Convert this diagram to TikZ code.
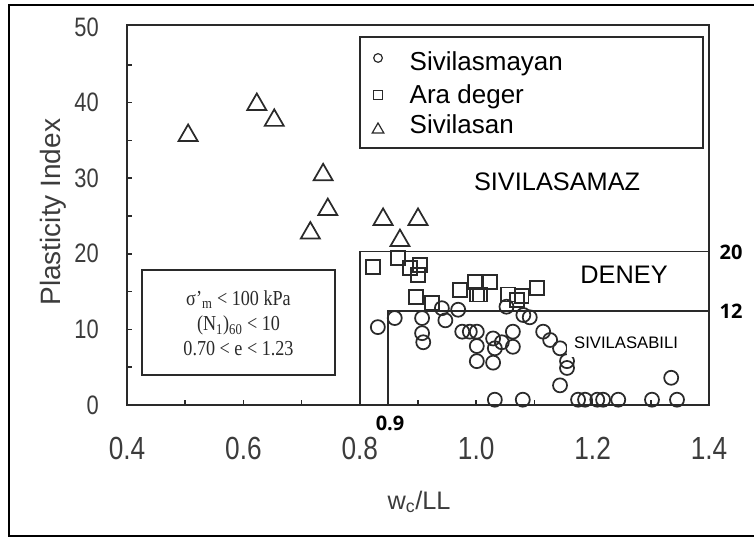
\documentclass[tikz,border=0pt]{standalone}
\usepackage{fontspec}
\usepackage{xcolor}
\usetikzlibrary{shapes.geometric}
\newfontfamily\arialfont{Liberation Sans}
\newfontfamily\scanfont[FakeStretch=0.82]{Liberation Sans}
\newfontfamily\timesfont[FakeStretch=0.85]{Liberation Serif}
\newfontfamily\boldfont{Open Sans}
\definecolor{scan}{HTML}{2A2A2A}
\definecolor{scantext}{HTML}{3C3C3C}
\tikzset{
  cir/.style={circle, draw=scan, line width=1.3pt, minimum size=10.5pt, inner sep=0pt},
  sqr/.style={rectangle, draw=scan, line width=1.3pt, minimum size=10.5pt, inner sep=0pt},
  tri/.style={regular polygon, regular polygon sides=3, draw=scan, line width=1.3pt,
              minimum size=16.5pt, inner sep=0pt, yshift=-2pt},
  zone/.style={draw=scan, line width=1.3pt},
  bignum/.style={font=\boldfont\bfseries\fontsize{15}{16}\selectfont, text=black},
}

\begin{document}
\begin{tikzpicture}[x=436.5pt, y=5.67pt]
  \def\topval{50.3}
  \useasboundingbox (0.1818,-17.59) rectangle (1.4773,53.57);
  \draw[black, line width=1.5pt] (1.55,52.91) -- (0.1973,52.91) -- (0.1973,-17.33) -- (1.55,-17.33);

  % plot frame and ticks
  \draw[zone, line width=1.5pt] (0.4,0) rectangle (1.4,\topval);
  \foreach \v in {5,10,...,45}
    \draw[zone] (0.4,\v) -- (0.409,\v);
  \foreach \v in {0.5,0.6,0.7,0.9,1.0,1.1,1.2,1.3}
    \draw[zone] (\v,0) -- (\v,0.7);
  \foreach \v in {0,10,...,50}
    \node[anchor=east, text=scantext, font=\scanfont\fontsize{20}{21}\selectfont] (yl\v) at (0.3595,\v) {\v};
  \foreach \v [count=\i] in {0.4,0.6,0.8,1.0,1.2,1.4}
    \node[text=scantext, font=\scanfont\fontsize{24}{25}\selectfont] (xl\i) at (\v,-5.7) {\v};
  \node[rotate=90, text=scantext, font=\arialfont\fontsize{21}{22}\selectfont] (ylab) at (0.2729,25.5) {Plasticity Index};
  \node[text=scantext, font=\arialfont\fontsize{19}{20}\selectfont] (xlab) at (0.9018,-12.8) {w\textsubscript{c}/LL};

  % zones
  \draw[zone] (0.8,0) -- (0.8,20.3) -- (1.4,20.3);
  \draw[zone] (0.8485,0) -- (0.8485,12.4) -- (1.4,12.4);
  \node[bignum] (n09) at (0.852,-2.4) {0.9};
  \node[bignum] (n20) at (1.438,20.2) {20};
  \node[bignum] (n12) at (1.438,12.4) {12};

  % conditions
  \draw[zone] (0.4258,3.97) rectangle (0.7574,17.86);
  \node[align=center, text=scan, font=\timesfont\fontsize{16}{19}\selectfont] (cond) at (0.5916,10.8)
    {σ’\textsubscript{m} < 100 kPa\\(N\textsubscript{1})\textsubscript{60} < 10\\0.70 < e < 1.23};

  % legend
  \draw[zone] (0.8003,34.0) rectangle (1.3897,48.68);
  \node[cir, minimum size=6.5pt, line width=0.9pt] (lc) at (0.8313,45.9) {};
  \node[sqr, minimum size=6.5pt, line width=0.9pt] (ls) at (0.8313,41.0) {};
  \node[tri, minimum size=10pt, line width=0.9pt, yshift=1pt] (lt) at (0.8313,36.6) {};
  \node[anchor=base west, font=\arialfont\fontsize{19.5}{21}\selectfont] (lt1) at (0.8777,44.3) {Sivilasmayan};
  \node[anchor=base west, font=\arialfont\fontsize{19.5}{21}\selectfont] (lt2) at (0.8777,39.9) {Ara deger};
  \node[anchor=base west, font=\arialfont\fontsize{19.5}{21}\selectfont] (lt3) at (0.8777,35.9) {Sivilasan};

  % data
  \foreach \px/\py [count=\i] in {0.505/36.0, 0.623/40.1, 0.653/38.0, 0.737/30.8, 0.745/26.2,
      0.715/23.1, 0.840/24.9, 0.900/24.9, 0.869/22.1}
    \node[tri] (t\i) at (\px,\py) {};
  \foreach \px/\py [count=\i] in {0.823/18.3, 0.866/19.4, 0.886/18.1, 0.904/18.5, 0.900/17.2,
      0.896/14.3, 0.924/13.5, 0.972/15.2, 0.998/16.3, 1.024/16.3, 1.001/14.6, 1.006/14.6,
      1.055/14.6, 1.070/13.9, 1.078/14.4, 1.104/15.5}
    \node[sqr] (s\i) at (\px,\py) {};
  \foreach \px/\py [count=\i] in {0.831/10.3, 0.860/11.5, 0.907/11.5, 0.907/9.5, 0.909/8.3,
      0.941/12.8, 0.947/11.2, 0.969/12.6, 0.976/9.7, 0.989/9.7, 1.001/9.7, 1.001/7.8,
      1.001/5.8, 1.029/8.8, 1.032/7.5, 1.029/5.6, 1.044/8.3, 1.063/9.7, 1.063/7.7,
      1.052/13.0, 1.081/11.9, 1.092/11.6, 1.115/9.7, 1.127/8.6, 1.144/7.5, 1.156/5.8,
      1.156/4.9, 1.144/2.6, 1.335/3.6,
      1.032/0.7, 1.080/0.7, 1.175/0.7, 1.187/0.7, 1.208/0.7, 1.218/0.7, 1.244/0.7,
      1.302/0.7, 1.345/0.7}
    \node[cir] (c\i) at (\px,\py) {};

  % zone names
  \node[font=\arialfont\fontsize{19}{20}\selectfont] (zn1) at (1.139,29.5) {SIVILASAMAZ};
  \node[font=\arialfont\fontsize{19}{20}\selectfont] (zn2) at (1.254,17.2) {DENEY};
  \node[fill=white, minimum width=88pt, minimum height=21pt, inner sep=0pt,
        font=\arialfont\fontsize{12.5}{14}\selectfont] (zn3) at (1.2574,8.2) {SIVILASABILI};
\end{tikzpicture}
\end{document}
